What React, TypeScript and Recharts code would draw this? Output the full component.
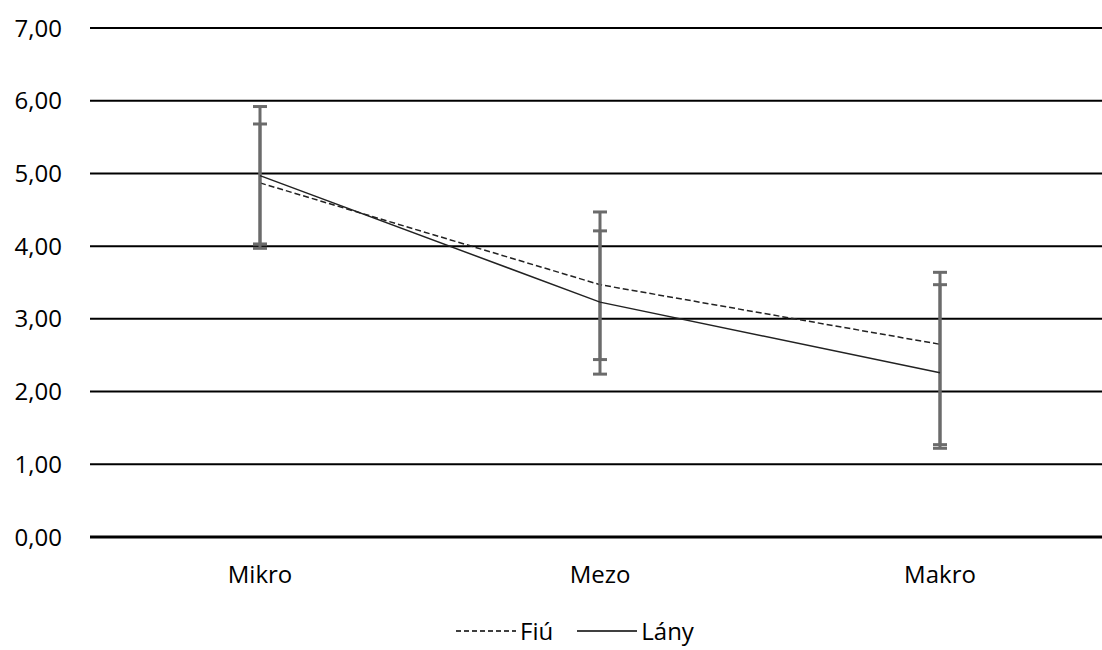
import { CartesianGrid, ErrorBar, Legend, Line, LineChart, XAxis, YAxis } from "recharts";

const categories = ["Mikro", "Mezo", "Makro"];
const fiuValues = [4.87, 3.47, 2.65];
const lanyValues = [4.97, 3.23, 2.26];
// [lower, upper] error amounts
const fiuErrors = [
  [0.84, 0.81],
  [1.03, 1.0],
  [1.38, 0.99],
];
const lanyErrors = [
  [1.0, 0.95],
  [0.99, 0.98],
  [1.04, 1.21],
];
const yTicks = [0, 1, 2, 3, 4, 5, 6, 7];

const data = categories.map((name, i) => ({
  name,
  fiu: fiuValues[i],
  lany: lanyValues[i],
  fiuErr: fiuErrors[i],
  lanyErr: lanyErrors[i],
}));

const FONT = "'Open Sans', sans-serif";
const tickStyle = { fontSize: 24, fill: "#000", fontFamily: FONT } as const;

function LegendContent() {
  const item = (label: string, dash?: string) => (
    <span style={{ display: "inline-flex", alignItems: "center", margin: "0 12px" }}>
      <svg width={60} height={10}>
        <line x1={0} y1={5} x2={60} y2={5} stroke="#000" strokeWidth={1.5} strokeDasharray={dash} />
      </svg>
      <span style={{ marginLeft: 4 }}>{label}</span>
    </span>
  );
  return (
    <div
      style={{
        display: "flex",
        justifyContent: "center",
        fontFamily: FONT,
        fontSize: 24,
        color: "#000",
        paddingLeft: 40,
      }}
    >
      {item("Fiú", "5 3")}
      {item("Lány")}
    </div>
  );
}

export default function App() {
  return (
    <div style={{ position: "absolute", left: 0, top: 0, width: 1102, height: 650, overflow: "hidden", background: "#fff" }}>
      <LineChart width={1120} height={650} data={data} margin={{ top: 28, right: 10, left: 0, bottom: 0 }}>
        <CartesianGrid vertical={false} stroke="#000" strokeWidth={2} />
        <XAxis
          dataKey="name"
          tick={tickStyle}
          tickLine={false}
          axisLine={{ stroke: "#000", strokeWidth: 3 }}
          height={77}
          tickMargin={23}
          padding={{ left: 170, right: 170 }}
        />
        <YAxis
          domain={[0, 7]}
          ticks={yTicks}
          tick={tickStyle}
          tickLine={false}
          axisLine={false}
          width={90}
          tickMargin={22}
          tickFormatter={(v: number) => v.toFixed(2).replace(".", ",")}
        />
        <Legend verticalAlign="bottom" height={36} content={<LegendContent />} />
        <Line
          type="linear"
          dataKey="fiu"
          name="Fiú"
          stroke="#222"
          strokeWidth={1.5}
          strokeDasharray="6 3"
          dot={false}
          activeDot={false}
          isAnimationActive={false}
        >
          <ErrorBar dataKey="fiuErr" width={7} stroke="#6b6b6b" strokeWidth={3} direction="y" />
        </Line>
        <Line
          type="linear"
          dataKey="lany"
          name="Lány"
          stroke="#222"
          strokeWidth={1.5}
          dot={false}
          activeDot={false}
          isAnimationActive={false}
        >
          <ErrorBar dataKey="lanyErr" width={7} stroke="#6b6b6b" strokeWidth={3} direction="y" />
        </Line>
      </LineChart>
    </div>
  );
}
